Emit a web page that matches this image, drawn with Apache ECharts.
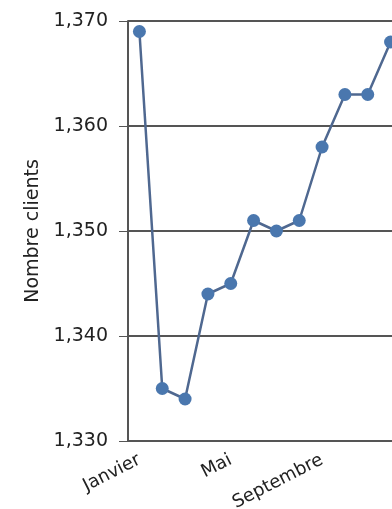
<!DOCTYPE html>
<html>
<head>
<meta charset="utf-8">
<script src="https://cdn.jsdelivr.net/npm/echarts@6/dist/echarts.min.js"></script>
<style>
  html, body { margin: 0; padding: 0; background: #fff; overflow: hidden; }
  #chart { width: 402px; height: 509px; }
</style>
</head>
<body>
<div id="chart"></div>
<script>
// Monthly client counts
const months = ['Janvier', 'Février', 'Mars', 'Avril', 'Mai', 'Juin',
                'Juillet', 'Août', 'Septembre', 'Octobre', 'Novembre', 'Décembre'];
const clients = [1369, 1335, 1334, 1344, 1345, 1351, 1350, 1351, 1358, 1363, 1363, 1368];
const yMin = 1330;
const yMax = 1370;
const yStep = 10;

const axisColor = '#555';
const textColor = '#222';
const font = 'DejaVu Sans';

const chart = echarts.init(document.getElementById('chart'), null, { renderer: 'canvas' });
chart.setOption({
  animation: false,
  backgroundColor: '#fff',
  grid: { left: 128, top: 21, bottom: 68, right: 0, outerBoundsMode: 'none', containLabel: false },
  xAxis: {
    type: 'category',
    data: months,
    boundaryGap: true,
    axisLine: { lineStyle: { color: axisColor, width: 2 } },
    axisTick: { alignWithLabel: true, interval: 1, length: 8, lineStyle: { color: axisColor, width: 1 } },
    axisLabel: {
      interval: 3, rotate: 27, margin: 18,
      color: textColor, fontFamily: font, fontSize: 18
    }
  },
  yAxis: {
    type: 'value',
    min: yMin, max: yMax, interval: yStep,
    name: 'Nombre clients',
    nameLocation: 'middle',
    nameGap: 82,
    nameTextStyle: { color: textColor, fontFamily: font, fontSize: 19 },
    axisLine: { show: true, lineStyle: { color: axisColor, width: 2 } },
    axisTick: { show: true, length: 9, lineStyle: { color: axisColor, width: 1 } },
    axisLabel: {
      margin: 20, color: textColor, fontFamily: font, fontSize: 19,
      formatter: v => v.toLocaleString('en-US')
    },
    splitLine: { show: true, lineStyle: { color: axisColor, width: 2 } }
  },
  series: [{
    type: 'line',
    data: clients,
    symbol: 'circle',
    symbolSize: 13,
    lineStyle: { color: '#4f6890', width: 2.5 },
    itemStyle: { color: '#4a77ae' }
  }]
});
</script>
</body>
</html>
